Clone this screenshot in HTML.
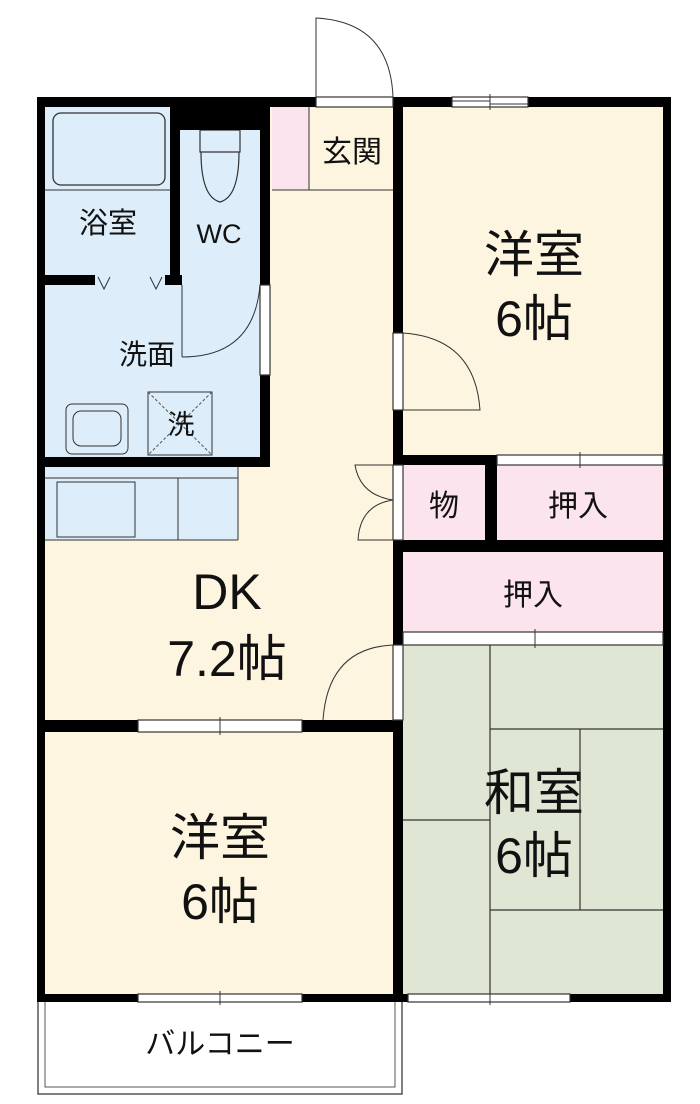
<!DOCTYPE html>
<html><head><meta charset="utf-8"><style>
html,body{margin:0;padding:0;background:#fff}
svg{display:block}
text{font-family:"Liberation Sans","Noto Sans CJK JP",sans-serif;fill:#111;text-anchor:middle}
</style></head><body>
<svg width="700" height="1104" viewBox="0 0 700 1104" xmlns="http://www.w3.org/2000/svg">
<rect x="45" y="105" width="618" height="889" fill="#fdf5e0"/>
<rect x="45" y="105" width="225" height="360" fill="#ddeefa"/>
<rect x="45" y="465" width="193" height="75" fill="#ddeefa"/>
<rect x="272" y="107" width="37" height="83" fill="#fce4ee"/>
<rect x="403" y="465" width="260" height="167" fill="#fce4ee"/>
<rect x="403" y="645" width="260" height="349" fill="#dfe6d3"/>
<rect x="38" y="1001" width="364" height="93" fill="#fff" stroke="#555" stroke-width="1.5"/>
<rect x="45" y="1001" width="350" height="86" fill="none" stroke="#555" stroke-width="1"/>
<rect x="53" y="113" width="112" height="72" rx="8" fill="none" stroke="#333" stroke-width="1.3"/>
<line x1="45" y1="190" x2="172" y2="190" stroke="#333"/>
<path d="M200 130 h40 v22 h-40 z M201 152 q0 45 19 50 q19 -5 19 -50" fill="none" stroke="#333" stroke-width="1.2"/>
<path d="M98 277 l6 12 l6 -12 M150 277 l6 12 l6 -12" fill="none" stroke="#333"/>
<line x1="182" y1="285" x2="182" y2="357" stroke="#333"/>
<path d="M182 357 q72 0 78 -72" fill="none" stroke="#333"/>
<rect x="66" y="404" width="62" height="50" rx="6" fill="none" stroke="#333"/>
<rect x="73" y="411" width="48" height="35" rx="8" fill="none" stroke="#333"/>
<rect x="148" y="392" width="64" height="63" fill="none" stroke="#333"/>
<path d="M148 392 L212 455 M212 392 L148 455" stroke="#555" stroke-dasharray="3,2"/>
<rect x="57" y="482" width="78" height="55" fill="none" stroke="#333"/>
<line x1="45" y1="540" x2="238" y2="540" stroke="#333"/>
<line x1="238" y1="465" x2="238" y2="540" stroke="#333"/>
<line x1="178" y1="478" x2="178" y2="540" stroke="#333"/>
<line x1="45" y1="478" x2="238" y2="478" stroke="#333"/>
<line x1="272" y1="190" x2="393" y2="190" stroke="#333"/>
<line x1="309" y1="107" x2="309" y2="190" stroke="#333"/>
<g stroke="#333" stroke-width="1.2" fill="none">
<line x1="490" y1="645" x2="490" y2="994"/>
<line x1="490" y1="729" x2="663" y2="729"/>
<line x1="580" y1="729" x2="580" y2="910"/>
<line x1="490" y1="910" x2="663" y2="910"/>
<line x1="403" y1="820" x2="490" y2="820"/>
</g>
<g fill="#000">
<rect x="37" y="97" width="279" height="10"/>
<rect x="393" y="97" width="59" height="10"/>
<rect x="528" y="97" width="142" height="10"/>
<rect x="37" y="97" width="8" height="904"/>
<rect x="663" y="97" width="8" height="904"/>
<rect x="37" y="994" width="101" height="8"/>
<rect x="302" y="994" width="106" height="8"/>
<rect x="570" y="994" width="101" height="8"/>
<rect x="393" y="97" width="10" height="236"/>
<rect x="393" y="410" width="10" height="55"/>
<rect x="393" y="540" width="10" height="105"/>
<rect x="393" y="720" width="10" height="280"/>
<rect x="170" y="105" width="10" height="180"/>
<rect x="180" y="105" width="90" height="25"/>
<rect x="260" y="105" width="10" height="180"/>
<rect x="260" y="375" width="10" height="92"/>
<rect x="45" y="275" width="50" height="10"/>
<rect x="165" y="275" width="17" height="10"/>
<rect x="45" y="457" width="225" height="10"/>
<rect x="393" y="455" width="104" height="10"/>
<rect x="485" y="455" width="12" height="85"/>
<rect x="393" y="540" width="277" height="12"/>
<rect x="37" y="720" width="101" height="12"/>
<rect x="302" y="720" width="101" height="12"/>
</g>
<g stroke="#333" stroke-width="1.2" fill="#fff">
<rect x="316" y="97" width="77" height="10"/>
<rect x="452" y="97" width="76" height="10"/>
<rect x="497" y="455" width="166" height="10"/>
<rect x="403" y="632" width="260" height="13"/>
<rect x="138" y="720" width="164" height="12"/>
<rect x="138" y="994" width="164" height="8"/>
<rect x="408" y="994" width="162" height="8"/>
<rect x="393" y="333" width="10" height="77"/>
<rect x="393" y="465" width="10" height="75"/>
<rect x="393" y="645" width="10" height="75"/>
<rect x="260" y="285" width="10" height="90"/>
</g>
<g stroke="#333" stroke-width="1" fill="none">
<line x1="490" y1="94" x2="490" y2="110"/><line x1="452" y1="101" x2="490" y2="101"/><line x1="490" y1="104" x2="528" y2="104"/>
<line x1="580" y1="452" x2="580" y2="468"/>
<line x1="535" y1="629" x2="535" y2="648"/>
<line x1="220" y1="717" x2="220" y2="735"/>
<line x1="220" y1="991" x2="220" y2="1005"/>
<line x1="490" y1="991" x2="490" y2="1005"/>
<path d="M316 97 V18 Q390 22 393 97"/>
<path d="M403 333 Q475 338 480 410 H403"/>
<path d="M393 465 H355 Q360 495 393 500 Q360 505 358 540 H393"/>
<path d="M393 645 Q328 648 323 720"/>
</g>
<text x="108" y="233" font-size="29">浴室</text>
<text x="219" y="243" font-size="27">WC</text>
<text x="147" y="364" font-size="28">洗面</text>
<text x="181" y="434" font-size="27">洗</text>
<text x="352" y="162" font-size="30">玄関</text>
<text x="534" y="272" font-size="50">洋室</text>
<text x="534" y="336" font-size="50">6帖</text>
<text x="444" y="516" font-size="30">物</text>
<text x="578" y="516" font-size="30">押入</text>
<text x="533" y="605" font-size="30">押入</text>
<text x="227" y="609" font-size="50">DK</text>
<text x="227" y="676" font-size="50">7.2帖</text>
<text x="534" y="810" font-size="50">和室</text>
<text x="534" y="873" font-size="50">6帖</text>
<text x="220" y="855" font-size="50">洋室</text>
<text x="220" y="919" font-size="50">6帖</text>
<text x="220" y="1054" font-size="30">バルコニー</text>
</svg>
</body></html>
